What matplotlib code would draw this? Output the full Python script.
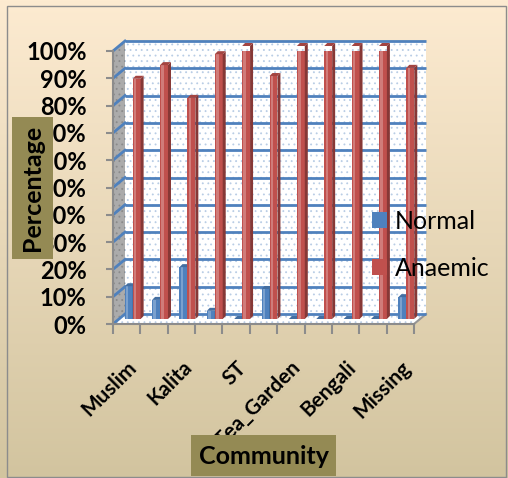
import numpy as np
import matplotlib
matplotlib.use("Agg")
import matplotlib.pyplot as plt
from matplotlib.patches import Rectangle, Polygon
from matplotlib.colors import to_rgb

plt.rcParams['font.family'] = ['Lato', 'DejaVu Sans']
plt.rcParams['hatch.linewidth'] = 0.6

# community groups (only every second name is printed on the axis)
categories = ["Muslim", "", "Kalita", "", "ST", "", "Tea_Garden", "", "Bengali", "", "Missing"]
normal = [0.12, 0.07, 0.19, 0.03, 0.00, 0.11, 0.00, 0.00, 0.00, 0.00, 0.08]
anaemic = [0.88, 0.93, 0.81, 0.97, 1.00, 0.89, 1.00, 1.00, 1.00, 1.00, 0.92]
yticks = np.arange(0, 1.01, 0.1)

W, H = 508, 478
fig = plt.figure(figsize=(W / 100, H / 100), dpi=100)

# chart area background: vertical gradient
bg = fig.add_axes([0, 0, 1, 1], zorder=-10)
top_c = np.array(to_rgb("#FDEBD1"))
bot_c = np.array(to_rgb("#D2C49F"))
t = np.linspace(0, 1, 256)[:, None]
grad = top_c[None, :] * (1 - t) + bot_c[None, :] * t
bg.imshow(grad[:, None, :], aspect="auto", extent=[0, W, H, 0])
bg.set_xlim(0, W)
bg.set_ylim(H, 0)
bg.axis("off")
bg.add_patch(Rectangle((6.5, 5.5), W - 9, H - 7, fill=False, edgecolor="#8C8C8C", lw=1))

# front plane of the 3d box
x0, y0, pw, ph = 113, 324, 301, 273
ax = fig.add_axes([x0 / W, 1 - y0 / H, pw / W, ph / H], zorder=1)
ax.set_xlim(0.5, 11.5)
ax.set_ylim(0, 1)
ax.patch.set_visible(False)

n = len(categories)
px_x = pw / n
px_y = ph
DX, DY = 12 / px_x, 10 / px_y      # depth of the box in data units
MX, MY = DX / 2, DY / 2            # bars sit halfway in

blue = "#4F81BD"
red = "#C0504D"
grid_c = "#4F81BD"

# back wall
ax.add_patch(Rectangle((0.5 + DX, DY), n, 1, facecolor="white", edgecolor="#B9CDE5",
                       hatch="...", lw=0, clip_on=False, zorder=0))
# side wall
ax.add_patch(Polygon([(0.5, 0), (0.5, 1), (0.5 + DX, 1 + DY), (0.5 + DX, DY)],
                     facecolor="#ABABAB", edgecolor="#8A8A8A", hatch="...", lw=0,
                     clip_on=False, zorder=0))
# floor
ax.add_patch(Polygon([(0.5, 0), (11.5, 0), (11.5 + DX, DY), (0.5 + DX, DY)],
                     facecolor="white", edgecolor="#B9CDE5", hatch="...", lw=0,
                     clip_on=False, zorder=0))
ax.plot([11.5, 11.5 + DX], [0, DY], color="#969696", lw=1.5, clip_on=False, zorder=1)

# gridlines on back and side walls
for v in yticks:
    ax.plot([0.5 + DX, 11.5 + DX], [v + DY, v + DY], color=grid_c, lw=2,
            clip_on=False, zorder=1, solid_capstyle="butt")
    ax.plot([0.5, 0.5 + DX], [v, v + DY], color=grid_c, lw=2, clip_on=False, zorder=1)

# bars drawn as simple boxes
w = 0.29
cdx, cdy = 3 / px_x, 3 / px_y
xs = np.arange(1, n + 1)


def shade(c, f):
    c = np.array(to_rgb(c))
    if f > 0:
        return tuple(c + (1 - c) * f)
    return tuple(c * (1 + f))


def draw_bars(xpos, vals, color, label):
    bars = ax.bar(xpos, vals, width=w, bottom=MY, color=color, lw=0, zorder=3,
                  label=label)
    ax.bar(xpos - w * 0.18, vals, width=w * 0.3, bottom=MY, color=shade(color, 0.25),
           lw=0, zorder=3)
    for b in bars:
        bx = b.get_x()
        bw = b.get_width()
        bot = b.get_y()
        top = bot + b.get_height()
        ax.add_patch(Polygon([(bx + bw, bot), (bx + bw, top), (bx + bw + cdx, top + cdy),
                              (bx + bw + cdx, bot + cdy)], facecolor=shade(color, -0.3),
                             lw=0, zorder=3, clip_on=False))
        ax.add_patch(Polygon([(bx, top), (bx + bw, top), (bx + bw + cdx, top + cdy),
                              (bx + cdx, top + cdy)], facecolor=shade(color, -0.15),
                             lw=0, zorder=3, clip_on=False))
    return bars


b1 = draw_bars(xs + MX - w / 2, normal, blue, "Normal")
b2 = draw_bars(xs + MX + w / 2, anaemic, red, "Anaemic")

# axes, ticks and labels
for s in ["top", "right"]:
    ax.spines[s].set_visible(False)
ax.spines["left"].set_color("#8C8C8C")
ax.spines["bottom"].set_color("#8C8C8C")
ax.spines["left"].set_linewidth(1.5)
ax.spines["bottom"].set_linewidth(1.5)

ax.set_yticks(yticks)
ax.set_yticklabels([f"{int(round(v * 100))}%" for v in yticks], fontsize=17,
                   fontweight="bold")
ax.tick_params(axis="y", length=5, width=1.5, color="#8C8C8C", pad=14)

ax.set_xticks(np.arange(0.5, n + 1, 1))
ax.set_xticklabels([])
ax.tick_params(axis="x", which="major", length=7, width=1.5, color="#8C8C8C")
ax.set_xticks(xs, minor=True)
ax.set_xticklabels(categories, minor=True, fontsize=15, fontweight="bold",
                   rotation=45, ha="right", rotation_mode="anchor")
ax.tick_params(axis="x", which="minor", length=0, pad=24)

ax.legend(handles=[b1, b2], loc="upper left", frameon=False, fontsize=18,
          bbox_to_anchor=(372 / W, 1 - 210 / H), bbox_transform=fig.transFigure,
          borderpad=0, borderaxespad=0, handlelength=0.6, handleheight=0.6,
          handletextpad=0.3, labelspacing=0.95)

# axis title boxes
ov = fig.add_axes([0, 0, 1, 1], zorder=5)
ov.set_xlim(0, W)
ov.set_ylim(H, 0)
ov.axis("off")
ov.patch.set_visible(False)
ov.add_patch(Rectangle((12, 117), 41, 142, facecolor="#948A54", lw=0))
ov.text(32.5, 188, "Percentage", rotation=90, ha="center", va="center",
        fontsize=18, fontweight="bold")
ov.add_patch(Rectangle((191, 435), 145, 41, facecolor="#948A54", lw=0))
ov.text(263.5, 456, "Community", ha="center", va="center", fontsize=18,
        fontweight="bold")

fig.savefig("out.png", dpi=100)
